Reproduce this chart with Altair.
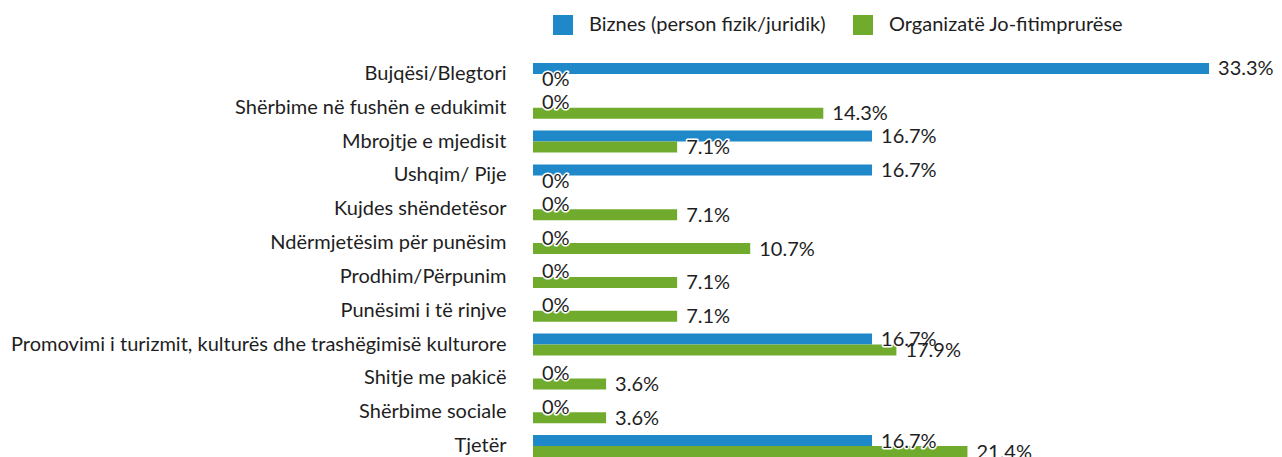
import altair as alt
import pandas as pd

categories = [
    "Bujqësi/Blegtori",
    "Shërbime në fushën e edukimit",
    "Mbrojtje e mjedisit",
    "Ushqim/ Pije",
    "Kujdes shëndetësor",
    "Ndërmjetësim për punësim",
    "Prodhim/Përpunim",
    "Punësimi i të rinjve",
    "Promovimi i turizmit, kulturës dhe trashëgimisë kulturore",
    "Shitje me pakicë",
    "Shërbime sociale",
    "Tjetër",
]
biznes = [33.3, 0, 16.7, 16.7, 0, 0, 0, 0, 16.7, 0, 0, 16.7]
organizata = [0, 14.3, 7.1, 0, 7.1, 10.7, 7.1, 7.1, 17.9, 3.6, 3.6, 21.4]
series_names = ["Biznes (person fizik/juridik)", "Organizatë Jo-fitimprurëse"]
colors = ["#1f88c8", "#71ab2e"]

rows = []
for i, c in enumerate(categories):
    rows.append({"cat": c, "series": series_names[0], "v": biznes[i]})
    rows.append({"cat": c, "series": series_names[1], "v": organizata[i]})
df = pd.DataFrame(rows)

FONT = "Lato"
TXT = "#1e1e1e"
FS = 20

y = alt.Y(
    "cat:N",
    sort=categories,
    scale=alt.Scale(paddingInner=0.35, paddingOuter=0.175),
    axis=alt.Axis(
        title=None, labelFont=FONT, labelFontSize=FS, labelColor=TXT,
        labelLimit=800, labelPadding=27, ticks=False, domain=False,
    ),
)
x = alt.X("v:Q", scale=alt.Scale(domain=[0, 34.48], nice=False), axis=None)
yoff = alt.YOffset("series:N", sort=series_names,
                   scale=alt.Scale(paddingInner=0, paddingOuter=0))

base = alt.Chart(df).transform_calculate(
    label="datum.v == 0 ? '0%' : format(datum.v, '.1f') + '%'"
)

bars = base.mark_bar().encode(
    x=x, y=y, yOffset=yoff,
    color=alt.Color(
        "series:N",
        sort=series_names,
        scale=alt.Scale(domain=series_names, range=colors),
        legend=alt.Legend(
            title=None, orient="none", legendX=20, legendY=-42,
            direction="horizontal", symbolType="square", symbolSize=400,
            symbolStrokeWidth=0, symbolOpacity=1, labelFont=FONT,
            labelFontSize=FS, labelColor=TXT, labelOffset=16,
            labelLimit=500, columnPadding=27, padding=0,
        ),
    ),
)

halo = base.mark_text(
    align="left", baseline="middle", dx=9, dy=1, font=FONT, fontSize=FS,
    color="white", stroke="white", strokeWidth=3, strokeJoin="round",
).encode(x=x, y=y, yOffset=yoff, text="label:N")

labels = base.mark_text(
    align="left", baseline="middle", dx=9, dy=1, font=FONT, fontSize=FS,
    color=TXT,
).encode(x=x, y=y, yOffset=yoff, text="label:N")

chart = (
    alt.layer(bars, halo, labels)
    .properties(
        width=700, height=406,
        autosize=alt.AutoSizeParams(type="none"),
        padding={"left": 525, "top": 49, "right": 41, "bottom": 0},
    )
    .configure_view(stroke=None)
)

chart.save("out.html", embed_options={"renderer": "svg", "actions": False})
